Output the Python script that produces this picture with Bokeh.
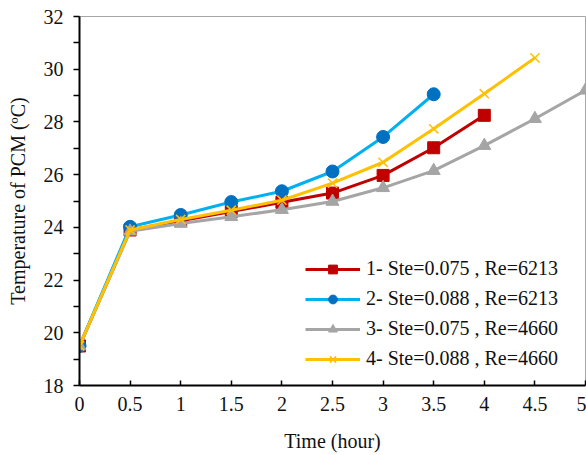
from bokeh.plotting import figure
from bokeh.models import Range1d, FixedTicker, Legend, LegendItem
from bokeh.embed import file_html
from bokeh.resources import INLINE

# Data
time_1 = [0, 0.5, 1, 1.5, 2, 2.5, 3, 3.5, 4]
temp_1 = [19.5, 23.9, 24.25, 24.6, 24.95, 25.3, 25.97, 27.02, 28.25]

time_2 = [0, 0.5, 1, 1.5, 2, 2.5, 3, 3.5]
temp_2 = [19.5, 24.02, 24.47, 24.96, 25.37, 26.12, 27.43, 29.05]

time_3 = [0, 0.5, 1, 1.5, 2, 2.5, 3, 3.5, 4, 4.5, 5]
temp_3 = [19.5, 23.85, 24.15, 24.4, 24.67, 24.98, 25.5, 26.15, 27.1, 28.12, 29.2]

time_4 = [0, 0.5, 1, 1.5, 2, 2.5, 3, 3.5, 4, 4.5]
temp_4 = [19.5, 23.9, 24.3, 24.65, 25.03, 25.68, 26.47, 27.74, 29.07, 30.43]

labels = ["1- Ste=0.075 , Re=6213", "2- Ste=0.088 , Re=6213",
          "3- Ste=0.075 , Re=4660", "4- Ste=0.088 , Re=4660"]

x_ticks = [0, 0.5, 1, 1.5, 2, 2.5, 3, 3.5, 4, 4.5, 5]
y_ticks = [18, 20, 22, 24, 26, 28, 30, 32]
y_minor = [19, 21, 23, 25, 27, 29, 31]

FONT = "'Liberation Serif', 'Times New Roman', serif"

p = figure(width=586, height=455, output_backend="svg", toolbar_location=None,
           x_range=Range1d(0, 5), y_range=Range1d(18, 32),
           min_border_left=79, min_border_right=1, min_border_top=16,
           min_border_bottom=70)
p.background_fill_color = "white"
p.border_fill_color = "white"
p.outline_line_color = "#A6A6A6"
p.outline_line_width = 1
p.xgrid.visible = False
p.ygrid.visible = False

# axes
for ax in (p.xaxis[0], p.yaxis[0]):
    ax.axis_line_color = "black"
    ax.axis_line_width = 2
    ax.major_tick_line_color = "black"
    ax.major_tick_line_width = 1.5
    ax.minor_tick_line_color = "black"
    ax.minor_tick_line_width = 1.5
    ax.major_label_text_font = FONT
    ax.major_label_text_font_size = "20px"
    ax.major_label_text_color = "#111111"
    ax.axis_label_text_font = FONT
    ax.axis_label_text_font_size = "20px"
    ax.axis_label_text_font_style = "normal"
    ax.axis_label_text_color = "#111111"

p.xaxis.ticker = FixedTicker(ticks=x_ticks)
p.xaxis.major_label_overrides = {0: "0", 1: "1", 2: "2", 3: "3", 4: "4", 5: "5"}
p.xaxis.major_tick_in = 5
p.xaxis.major_tick_out = 0
p.xaxis.minor_tick_in = 0
p.xaxis.minor_tick_out = 0
p.xaxis.major_label_standoff = 11
p.xaxis.axis_label = "Time (hour)"
p.xaxis.axis_label_standoff = 16

p.yaxis.ticker = FixedTicker(ticks=y_ticks, minor_ticks=y_minor)
p.yaxis.major_tick_in = 0
p.yaxis.major_tick_out = 6
p.yaxis.minor_tick_in = 0
p.yaxis.minor_tick_out = 6
p.yaxis.major_label_standoff = 10
p.yaxis.axis_label = "Temperature of PCM (ºC)"
p.yaxis.axis_label_standoff = 12

items = []
# series 1: red squares
l1 = p.line(time_1, temp_1, line_color="#C00000", line_width=3)
s1 = p.scatter(time_1, temp_1, marker="square", size=12, fill_color="#C00000",
               line_color="#C00000")
items.append(LegendItem(label=labels[0], renderers=[l1, s1]))
# series 2: blue circles
l2 = p.line(time_2, temp_2, line_color="#00B0F0", line_width=3)
s2 = p.scatter(time_2, temp_2, marker="circle", size=13, fill_color="#0070C0",
               line_color="#0070C0")
items.append(LegendItem(label=labels[1], renderers=[l2, s2]))
# series 3: gray triangles
l3 = p.line(time_3, temp_3, line_color="#A5A5A5", line_width=3)
s3 = p.scatter(time_3, temp_3, marker="triangle", size=13, fill_color="#A5A5A5",
               line_color="#A5A5A5")
items.append(LegendItem(label=labels[2], renderers=[l3, s3]))
# series 4: yellow x
l4 = p.line(time_4, temp_4, line_color="#FFC000", line_width=3)
s4 = p.scatter(time_4, temp_4, marker="x", size=13, line_color="#FFC000",
               line_width=1.5)
items.append(LegendItem(label=labels[3], renderers=[l4, s4]))

legend = Legend(items=items, location=(226, 15))
legend.padding = 0
legend.margin = 0
legend.spacing = 7
legend.glyph_width = 55
legend.glyph_height = 22
legend.label_height = 22
legend.label_standoff = 6
legend.label_text_font = FONT
legend.label_text_font_size = "20px"
legend.label_text_color = "#111111"
legend.border_line_alpha = 0
legend.background_fill_alpha = 0
p.add_layout(legend)

open("out.html", "w").write(file_html(p, INLINE))
